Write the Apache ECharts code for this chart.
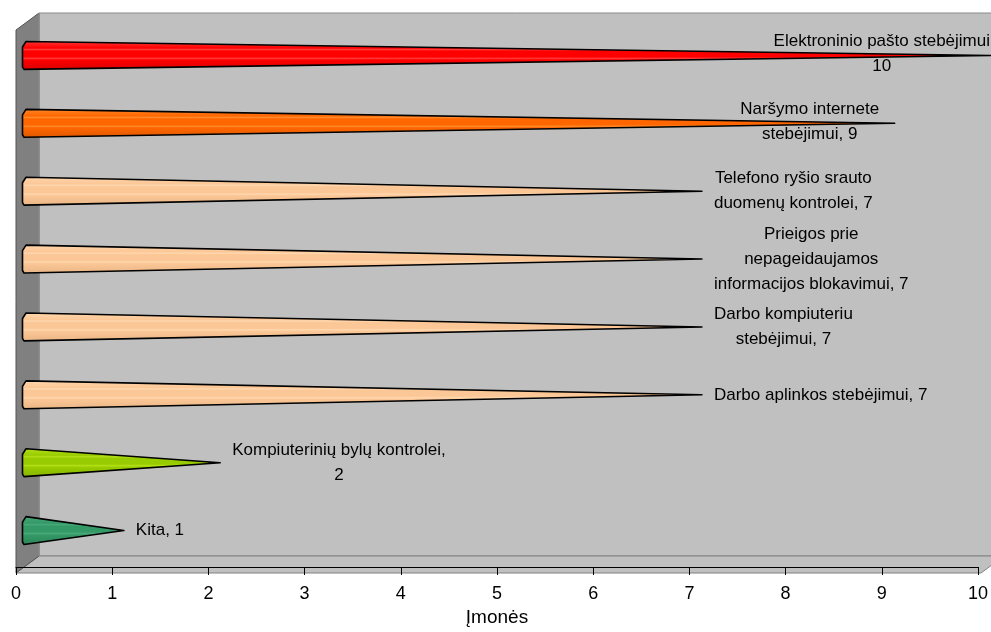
<!DOCTYPE html>
<html lang="lt">
<head>
<meta charset="UTF-8">
<title>Įmonės</title>
<script src="https://cdn.jsdelivr.net/npm/echarts@6/dist/echarts.min.js"></script>
<style>
  html, body { margin: 0; padding: 0; background: #fff; }
  #chart { width: 991px; height: 632px; }
</style>
</head>
<body>
<div id="chart"></div>
<script>
// duomenys (iš viršaus į apačią)
var categories = [
    'Elektroninio pašto stebėjimui',
    'Naršymo internete stebėjimui',
    'Telefono ryšio srauto duomenų kontrolei',
    'Prieigos prie nepageidaujamos informacijos blokavimui',
    'Darbo kompiuteriu stebėjimui',
    'Darbo aplinkos stebėjimui',
    'Kompiuterinių bylų kontrolei',
    'Kita'
];
var values = [10, 9, 7, 7, 7, 7, 2, 1];
var labels = [
    'Elektroninio pašto stebėjimui\n10',
    'Naršymo internete\nstebėjimui, 9',
    'Telefono ryšio srauto\nduomenų kontrolei, 7',
    'Prieigos prie\nnepageidaujamos\ninformacijos blokavimui, 7',
    'Darbo kompiuteriu\nstebėjimui, 7',
    'Darbo aplinkos stebėjimui, 7',
    'Kompiuterinių bylų kontrolei,\n2',
    'Kita, 1'
];
var xTicks = [0, 10, 1]; // min, max, interval

// spalvos: [šviesi, pagrindinė, tamsi]
var coneColors = [
    ['#ff3a3a', '#ff0000', '#d80000'],
    ['#ff8a2a', '#ff6600', '#dd5800'],
    ['#ffd8b0', '#fcc796', '#e8b585'],
    ['#ffd8b0', '#fcc796', '#e8b585'],
    ['#ffd8b0', '#fcc796', '#e8b585'],
    ['#ffd8b0', '#fcc796', '#e8b585'],
    ['#b4e01a', '#99cc00', '#86b300'],
    ['#4aa87a', '#339966', '#2b8457']
];

// 3D išdėstymas: priekinė plokštuma + gylis
var W = 991, H = 632;
var front = { left: 16, top: 30, right: 981, bottom: 573 };
var depth = { dx: 23, dy: -17 };
var FONT = '"Liberation Sans", Arial, sans-serif';
var FS = 17;

var measureCtx = document.createElement('canvas').getContext('2d');
measureCtx.font = FS + 'px ' + FONT;
function textWidth(s) {
    return Math.max.apply(null, s.split('\n').map(function (l) { return measureCtx.measureText(l).width; }));
}

function renderCone(params, api) {
    var i = params.dataIndex;
    var v = api.value(0);
    var base = api.coord([0, i]);
    var tip = api.coord([v, i]);
    var band = api.size([0, 1])[1];
    var h = band * 0.205;
    var x0 = base[0] - 5;
    var yc = base[1];
    var c = coneColors[i];

    var cone = {
        type: 'polygon',
        shape: {
            points: [
                [x0 + 3.5, yc - h],
                [tip[0], yc],
                [x0 + 1.5, yc + h],
                [x0, yc + h - 2.5],
                [x0, yc - h + 5.5]
            ]
        },
        style: {
            fill: new echarts.graphic.LinearGradient(0, 0, 0, 1, [
                { offset: 0, color: c[0] },
                { offset: 0.25, color: c[1] },
                { offset: 0.3, color: c[0] },
                { offset: 0.35, color: c[1] },
                { offset: 0.55, color: c[1] },
                { offset: 0.6, color: c[0] },
                { offset: 0.65, color: c[1] },
                { offset: 1, color: c[2] }
            ]),
            stroke: '#000',
            lineWidth: 1.6,
            lineJoin: 'round'
        }
    };

    var txt = labels[i];
    var w = textWidth(txt);
    var lx, ly;
    if (tip[0] + 12 + w <= W - 1) {
        lx = tip[0] + 12 + w / 2;
        ly = yc;
    } else {
        lx = Math.min(tip[0] - 85, W - 1 - w / 2);
        ly = yc - 2;
    }
    var label = {
        type: 'text',
        x: lx,
        y: ly,
        style: {
            text: txt,
            font: FS + 'px ' + FONT,
            fill: '#000',
            align: 'center',
            verticalAlign: 'middle',
            lineHeight: 25
        }
    };
    return { type: 'group', children: [cone, label] };
}

var back = {
    left: front.left + depth.dx, top: front.top + depth.dy,
    right: front.right + depth.dx, bottom: front.bottom + depth.dy
};

var option = {
    backgroundColor: '#fff',
    animation: false,
    graphic: {
        elements: [
            {   // galinė siena
                type: 'rect', z: -10,
                shape: { x: back.left, y: back.top, width: back.right - back.left, height: back.bottom - back.top },
                style: { fill: '#c0c0c0', stroke: '#8a8a8a', lineWidth: 1 }
            },
            {   // grindys
                type: 'polygon', z: -9,
                shape: { points: [[front.left, front.bottom], [back.left, back.bottom], [back.right, back.bottom], [front.right, front.bottom]] },
                style: { fill: '#c0c0c0', stroke: '#808080', lineWidth: 1 }
            },
            {   // šoninė siena
                type: 'polygon', z: -8,
                shape: { points: [[front.left, front.top], [back.left, back.top], [back.left, back.bottom], [front.left, front.bottom]] },
                style: { fill: '#808080', stroke: '#555', lineWidth: 1 }
            },
            {
                type: 'line', z: -7,
                shape: { x1: back.left, y1: back.top, x2: back.left, y2: back.bottom },
                style: { stroke: '#a0a0a0', lineWidth: 1 }
            }
        ]
    },
    grid: [
        { left: front.left, top: front.top, width: front.right - front.left, height: front.bottom - front.top },
        {
            left: front.left + depth.dx / 2, top: front.top + depth.dy / 2,
            width: front.right - front.left, height: front.bottom - front.top
        }
    ],
    xAxis: [
        {
            gridIndex: 0, type: 'value', min: xTicks[0], max: xTicks[1], interval: xTicks[2],
            axisLine: { show: true, lineStyle: { color: '#000', width: 1 } },
            axisTick: { show: true, length: 8, lineStyle: { color: '#000' } },
            axisLabel: { color: '#000', fontSize: 18, fontFamily: FONT, margin: 18, showMaxLabel: true },
            splitLine: { show: false },
            name: 'Įmonės', nameLocation: 'middle', nameGap: 41,
            nameTextStyle: { color: '#000', fontSize: 19, fontFamily: FONT }
        },
        {
            gridIndex: 1, type: 'value', min: xTicks[0], max: xTicks[1], show: false
        }
    ],
    yAxis: [
        { gridIndex: 0, type: 'category', data: categories, inverse: true, show: false },
        { gridIndex: 1, type: 'category', data: categories, inverse: true, show: false }
    ],
    series: [
        {
            type: 'custom',
            xAxisIndex: 1,
            yAxisIndex: 1,
            renderItem: renderCone,
            clip: false,
            data: values.map(function (v, i) { return [v, i]; }),
            encode: { x: 0, y: 1 }
        }
    ]
};

var chart = echarts.init(document.getElementById('chart'));
chart.setOption(option);
</script>
</body>
</html>
